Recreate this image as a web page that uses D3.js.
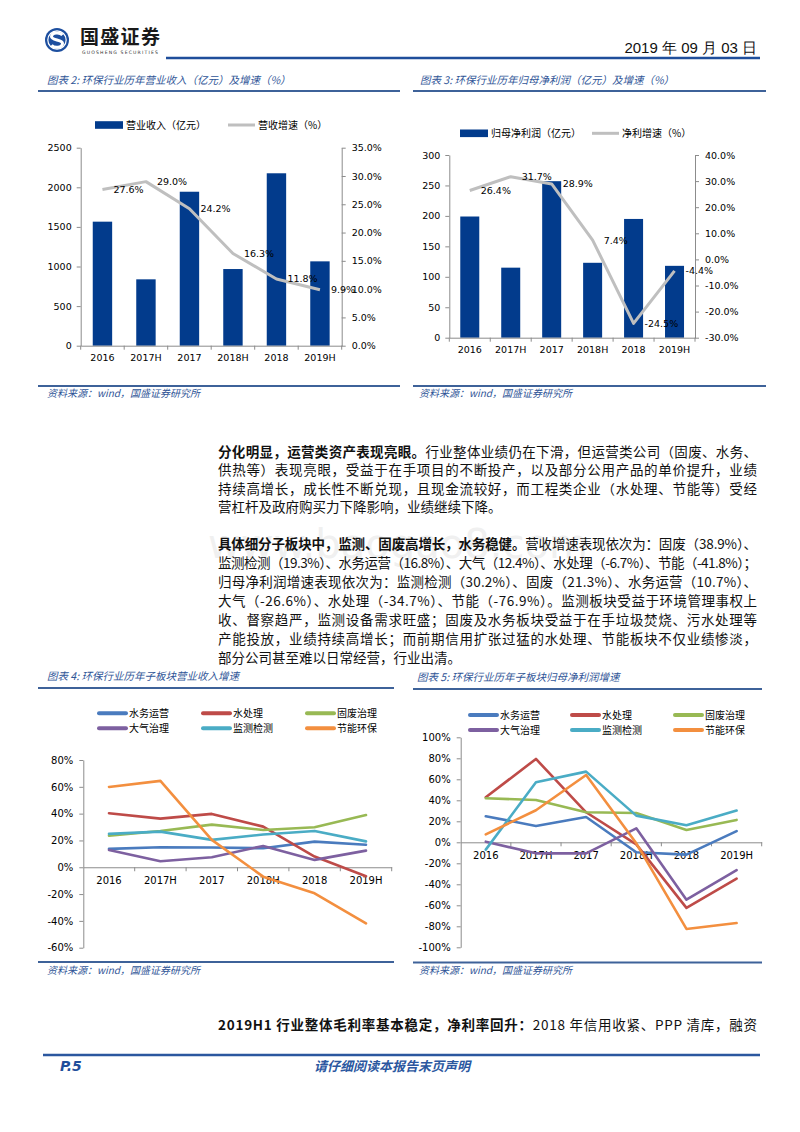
<!DOCTYPE html>
<html><head><meta charset="utf-8">
<script src="https://cdn.jsdelivr.net/npm/d3@7"></script>
<style>body{margin:0;background:#fff}svg{display:block}</style>
</head><body>
<script>
// ---------------- data ----------------
const years = ["2016","2017H","2017","2018H","2018","2019H"];
const revenue = [1566, 838, 1944, 968, 2177, 1065];          // 营业收入（亿元）
const revenueGrowth = [27.6, 29.0, 24.2, 16.3, 11.8, 9.9];   // 营收增速（%）
const profit = [199, 115, 257, 123, 195, 118];               // 归母净利润（亿元）
const profitGrowth = [26.4, 31.7, 28.9, 7.4, -24.5, -4.4];   // 净利增速（%）

const segments = ["水务运营","水处理","固废治理","大气治理","监测检测","节能环保"];
const segColors = ["#4A7BBE","#BE4B48","#98B954","#7D60A0","#4AACC5","#F38F3F"];

// 子板块营业收入增速 (%)
const revWater      = [13.7, 14.9, 14.7, 14.2, 19.1, 16.8];
const revWaterTreat = [40.3, 36.3, 39.8, 30.3, 8.0, -6.7];
const revSolid      = [23.6, 27.1, 31.8, 27.8, 29.8, 38.9];
const revAir        = [12.9, 4.5, 7.5, 15.9, 5.5, 12.4];
const revMonitor    = [24.9, 26.6, 20.4, 24.4, 27.1, 19.3];
const revEnergy     = [59.9, 64.4, 20.4, -7.0, -19.4, -41.8];

// 子板块归母净利润增速 (%)
const npWater      = [24.8, 15.6, 24.1, -9.5, -11.7, 10.7];
const npWaterTreat = [42.9, 79.4, 28.6, -2.0, -62.5, -34.7];
const npSolid      = [41.9, 40.3, 28.6, 27.9, 11.7, 21.3];
const npAir        = [0.6, -10.5, -10.5, 13.3, -54.6, -26.6];
const npMonitor    = [-7.0, 57.1, 67.3, 25.4, 16.2, 30.2];
const npEnergy     = [7.6, 30.5, 64.1, -1.0, -82.5, -76.9];

const leftTicks2 = [0,500,1000,1500,2000,2500];
const rightTicks2 = [0,5,10,15,20,25,30,35];
const leftTicks3 = [0,50,100,150,200,250,300];
const rightTicks3 = [-30,-20,-10,0,10,20,30,40];
const ticks4 = [-60,-40,-20,0,20,40,60,80];
const ticks5 = [-100,-80,-60,-40,-20,0,20,40,60,80,100];

// ---------------- page ----------------
const W = 800, H = 1132;
const CJK = "'Noto Sans CJK SC','Noto Sans',sans-serif";
const NUM = "'DejaVu Sans',sans-serif";
const BLUE = "#2F5597";
const RULE = "#3E6299";
const BAR = "#023B8C";
const AXIS = "#8C8C8C";

const svg = d3.select("body").append("svg").attr("width", W).attr("height", H);
svg.append("rect").attr("width", W).attr("height", H).attr("fill", "#fff");

function hline(x1, x2, y, w, c) {
  svg.append("line").attr("x1", x1).attr("x2", x2).attr("y1", y).attr("y2", y)
    .attr("stroke", c || RULE).attr("stroke-width", w || 2);
}
function txt(x, y, s, o) {
  o = o || {};
  return svg.append("text").attr("x", x).attr("y", y).text(s)
    .attr("font-family", o.f || CJK).attr("font-size", o.s || 10)
    .attr("fill", o.c || "#000").attr("font-weight", o.w || 400)
    .attr("font-style", o.i ? "italic" : "normal")
    .attr("text-anchor", o.a || "start");
}

// ---- header ----
const logo = svg.append("g");
logo.append("circle").attr("cx", 57).attr("cy", 40).attr("r", 12).attr("fill", "#1D4F9F");
logo.append("circle").attr("cx", 57).attr("cy", 40).attr("r", 9.2).attr("fill", "none").attr("stroke", "#fff").attr("stroke-width", 1.2);
logo.append("path").attr("d", "M62.5,35 C60,32 51.5,32 51.5,36.8 C51.5,40.2 62.5,39.8 62.5,43.3 C62.5,48.2 54,48.2 51.5,45.2")
  .attr("fill", "none").attr("stroke", "#fff").attr("stroke-width", 3);
txt(80, 44, "国盛证券", {s: 19, w: 700, c: "#1a1a1a"}).attr("letter-spacing", 1.3);
txt(82, 54, "GUOSHENG SECURITIES", {f: NUM, s: 4.6, c: "#333"}).attr("letter-spacing", 1.15);
txt(757, 53, "2019 年 09 月 03 日", {f: "'Liberation Sans Narrow','Liberation Sans',sans-serif", s: 15, a: "end", c: "#111"});
hline(166, 760, 58, 2.5, "#1F4E9B");

// ---- chart titles / rules ----
txt(47, 84, "图表 2:  环保行业历年营业收入（亿元）及增速（%）", {s: 10.5, i: true, c: BLUE});
txt(420, 84, "图表 3:  环保行业历年归母净利润（亿元）及增速（%）", {s: 10.5, i: true, c: BLUE});
hline(38, 400, 91); hline(413, 766, 91);
hline(38, 400, 386); hline(413, 766, 386);
txt(47, 397, "资料来源：wind，国盛证券研究所", {s: 10, i: true, c: BLUE});
txt(419, 397, "资料来源：wind，国盛证券研究所", {s: 10, i: true, c: BLUE});

txt(47, 680, "图表 4:  环保行业历年子板块营业收入增速", {s: 10.5, i: true, c: BLUE});
txt(417, 680.5, "图表 5:  环保行业历年子板块归母净利润增速", {s: 10.5, i: true, c: BLUE});
hline(38, 394, 688); hline(413, 762, 689);
hline(38, 394, 962); hline(413, 762, 962.5);
txt(47, 974, "资料来源：wind，国盛证券研究所", {s: 10, i: true, c: BLUE});
txt(419, 974, "资料来源：wind，国盛证券研究所", {s: 10, i: true, c: BLUE});

// ---- bar + line combo charts ----
function styleAxis(g) {
  g.selectAll("path.domain").attr("stroke", AXIS).attr("stroke-width", 1);
  g.selectAll(".tick line").attr("stroke", AXIS);
  g.selectAll(".tick text").attr("font-family", NUM).attr("font-size", 9.5).attr("fill", "#000");
}

function comboChart(o) {
  const g = svg.append("g");
  const x = d3.scaleBand().domain(years).range([o.x0, o.x1]).paddingInner(o.pad).paddingOuter(o.pad / 2);
  const yL = d3.scaleLinear().domain([o.leftTicks[0], o.leftTicks[o.leftTicks.length - 1]]).range([o.yBot, o.yTop]);
  const yR = d3.scaleLinear().domain([o.rightTicks[0], o.rightTicks[o.rightTicks.length - 1]]).range([o.yBot, o.yTop]);

  g.selectAll("rect.bar").data(o.bars).join("rect").attr("class", "bar")
    .attr("x", (d, i) => x(years[i])).attr("width", x.bandwidth())
    .attr("y", d => yL(d)).attr("height", d => yL(0) - yL(d)).attr("fill", BAR);

  const aL = g.append("g").attr("transform", `translate(${o.x0},0)`)
    .call(d3.axisLeft(yL).tickValues(o.leftTicks).tickSize(4).tickSizeOuter(0).tickPadding(5)
      .tickFormat(d => String(d)));
  styleAxis(aL);
  const aR = g.append("g").attr("transform", `translate(${o.x1},0)`)
    .call(d3.axisRight(yR).tickValues(o.rightTicks).tickSize(4).tickSizeOuter(0).tickPadding(6)
      .tickFormat(d => d.toFixed(1) + "%"));
  styleAxis(aR);
  const aB = g.append("g").attr("transform", `translate(0,${o.yBot})`)
    .call(d3.axisBottom(x).tickSize(0).tickSizeOuter(0).tickPadding(9));
  styleAxis(aB);
  const step = x.step();
  g.selectAll("line.bt").data(d3.range(7)).join("line").attr("class", "bt")
    .attr("x1", i => o.x0 + i * step).attr("x2", i => o.x0 + i * step)
    .attr("y1", o.yBot).attr("y2", o.yBot + 4).attr("stroke", AXIS);

  const cx = i => x(years[i]) + x.bandwidth() / 2;
  const line = d3.line().x((d, i) => cx(i)).y(d => yR(d));
  g.append("path").datum(o.growth).attr("d", line).attr("fill", "none")
    .attr("stroke", "#BFBFBF").attr("stroke-width", 3).attr("stroke-linejoin", "round");
  g.selectAll("text.lbl").data(o.growth).join("text").attr("class", "lbl")
    .attr("x", (d, i) => cx(i) + 11).attr("y", d => yR(d) + 3.5)
    .attr("font-family", NUM).attr("font-size", 9.5).attr("fill", "#000")
    .text(d => d.toFixed(1) + "%");

  // legend
  g.append("rect").attr("x", o.lg[0]).attr("y", o.lgy - 3.8).attr("width", 28).attr("height", 7.6).attr("fill", BAR);
  g.append("text").attr("x", o.lg[0] + 31).attr("y", o.lgy + 3.6).text(o.barName)
    .attr("font-family", CJK).attr("font-size", 10).attr("fill", "#000");
  g.append("line").attr("x1", o.lg[1]).attr("x2", o.lg[1] + 27).attr("y1", o.lgy).attr("y2", o.lgy)
    .attr("stroke", "#BFBFBF").attr("stroke-width", 3);
  g.append("text").attr("x", o.lg[1] + 30).attr("y", o.lgy + 3.6).text(o.lineName)
    .attr("font-family", CJK).attr("font-size", 10).attr("fill", "#000");
}

comboChart({x0: 80.7, x1: 341.7, yTop: 147.7, yBot: 345.7, pad: 0.554,
  leftTicks: leftTicks2, rightTicks: rightTicks2, bars: revenue, growth: revenueGrowth,
  lg: [95, 228], lgy: 125, barName: "营业收入（亿元）", lineName: "营收增速（%）"});
comboChart({x0: 449.3, x1: 695, yTop: 155, yBot: 337.7, pad: 0.536,
  leftTicks: leftTicks3, rightTicks: rightTicks3, bars: profit, growth: profitGrowth,
  lg: [460, 592], lgy: 133.3, barName: "归母净利润（亿元）", lineName: "净利增速（%）"});

// ---- multi-line charts ----
function lineChart(o) {
  const g = svg.append("g");
  const x = d3.scaleBand().domain(years).range([o.x0, o.x1]).padding(0);
  const y = d3.scaleLinear().domain([o.ticks[0], o.ticks[o.ticks.length - 1]]).range([o.yBot, o.yTop]);
  const aL = g.append("g").attr("transform", `translate(${o.x0},0)`)
    .call(d3.axisLeft(y).tickValues(o.ticks).tickSize(4).tickSizeOuter(0).tickPadding(6).tickFormat(d => d + "%"));
  styleAxis(aL);
  aL.selectAll(".tick text").attr("font-size", 10);
  const aB = g.append("g").attr("transform", `translate(0,${y(0)})`)
    .call(d3.axisBottom(x).tickSize(0).tickSizeOuter(0).tickPadding(10));
  styleAxis(aB);
  aB.selectAll(".tick text").attr("font-size", 10);
  g.selectAll("line.bt").data(d3.range(1, 7)).join("line").attr("class", "bt")
    .attr("x1", i => o.x0 + i * x.step()).attr("x2", i => o.x0 + i * x.step())
    .attr("y1", y(0)).attr("y2", y(0) + 4).attr("stroke", AXIS);

  const line = d3.line().x((d, i) => x(years[i]) + x.bandwidth() / 2).y(d => y(d));
  g.selectAll("path.ser").data(o.series).join("path").attr("class", "ser")
    .attr("d", d => line(d)).attr("fill", "none")
    .attr("stroke", (d, i) => segColors[i]).attr("stroke-width", 2.6)
    .attr("stroke-linejoin", "round").attr("stroke-linecap", "round");

  segments.forEach((name, i) => {
    const cx = o.lgx[i % 3], cy = o.lgy[Math.floor(i / 3)];
    g.append("line").attr("x1", cx).attr("x2", cx + 27).attr("y1", cy).attr("y2", cy)
      .attr("stroke", segColors[i]).attr("stroke-width", 4).attr("stroke-linecap", "round");
    g.append("text").attr("x", cx + 30).attr("y", cy + 3.6).text(name)
      .attr("font-family", CJK).attr("font-size", 10).attr("fill", "#000");
  });
}

lineChart({x0: 83.3, x1: 391.7, yTop: 760, yBot: 947.7, ticks: ticks4,
  series: [revWater, revWaterTreat, revSolid, revAir, revMonitor, revEnergy],
  lgx: [99, 203, 307], lgy: [713.3, 728.3]});
lineChart({x0: 460.7, x1: 761.7, yTop: 737.3, yBot: 947.3, ticks: ticks5,
  series: [npWater, npWaterTreat, npSolid, npAir, npMonitor, npEnergy],
  lgx: [470, 572, 675], lgy: [715, 730]});

// ---- body text ----
txt(208, 558, "www.baogao8.com", {f: NUM, s: 40, c: "#F0F0F0"}).attr("textLength", 380);

function para(x, y, parts, target) {
  const t = svg.append("text").attr("x", x).attr("y", y)
    .attr("font-family", CJK).attr("font-size", 13.5).attr("fill", "#111");
  parts.forEach(p => t.append("tspan").attr("font-weight", p[1] ? 700 : 400).text(p[0]));
  if (target) {
    const n = parts.map(p => p[0]).join("").length;
    const w = t.node().getComputedTextLength();
    t.attr("letter-spacing", (target - w) / (n - 1));
  }
}
const TW = 539, TX = 218;
const p1 = [
  [["分化明显，运营类资产表现亮眼。", 1], ["行业整体业绩仍在下滑，但运营类公司（固废、水务、", 0]],
  [["供热等）表现亮眼，受益于在手项目的不断投产，以及部分公用产品的单价提升，业绩", 0]],
  [["持续高增长，成长性不断兑现，且现金流较好，而工程类企业（水处理、节能等）受经", 0]],
  [["营杠杆及政府购买力下降影响，业绩继续下降。", 0]]
];
const p1y = [456.5, 475, 493.5, 512];
p1.forEach((l, i) => para(TX, p1y[i], l, i < 3 ? TW : null));

const p2 = [
  [["具体细分子板块中，监测、固废高增长，水务稳健。", 1], ["营收增速表现依次为：固废（38.9%）、", 0]],
  [["监测检测（19.3%）、水务运营（16.8%）、大气（12.4%）、水处理（-6.7%）、节能（-41.8%）；", 0]],
  [["归母净利润增速表现依次为：监测检测（30.2%）、固废（21.3%）、水务运营（10.7%）、", 0]],
  [["大气（-26.6%）、水处理（-34.7%）、节能（-76.9%）。监测板块受益于环境管理事权上", 0]],
  [["收、督察趋严，监测设备需求旺盛；固废及水务板块受益于在手垃圾焚烧、污水处理等", 0]],
  [["产能投放，业绩持续高增长；而前期信用扩张过猛的水处理、节能板块不仅业绩惨淡，", 0]],
  [["部分公司甚至难以日常经营，行业出清。", 0]]
];
p2.forEach((l, i) => para(TX, 548.5 + i * 19, l, i < 6 ? TW : null));

para(TX, 1030, [["2019H1 行业整体毛利率基本稳定，净利率回升：", 1], ["2018 年信用收紧、PPP 清库，融资", 0]], TW);

// ---- footer ----
hline(43, 760, 1055, 2.5, "#2B579F");
txt(60, 1071, "P.5", {f: NUM, s: 14, w: 700, i: true, c: "#1F4E9B"});
txt(392, 1070.5, "请仔细阅读本报告末页声明", {s: 13, w: 700, i: true, c: "#2B579F", a: "middle"});
</script>
</body></html>
